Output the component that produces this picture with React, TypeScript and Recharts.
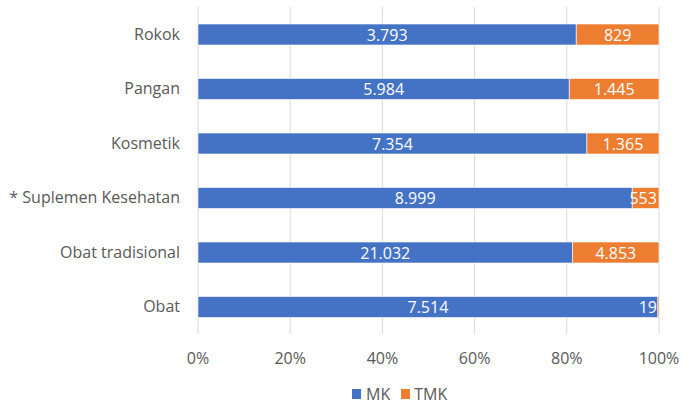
import { BarChart, Bar, XAxis, YAxis, CartesianGrid, Legend, LabelList } from "recharts";

const categories = ["Rokok", "Pangan", "Kosmetik", "* Suplemen Kesehatan", "Obat tradisional", "Obat"];
const mkValues = [3793, 5984, 7354, 8999, 21032, 7514];
const tmkValues = [829, 1445, 1365, 553, 4853, 19];
const percentTicks = [0, 0.2, 0.4, 0.6, 0.8, 1];

const data = categories.map((name, i) => ({ name, mk: mkValues[i], tmk: tmkValues[i] }));

const FONT = "'Open Sans', sans-serif";
const TEXT = "#595959";
const BLUE = "#4472C4";
const ORANGE = "#ED7D31";
const PLOT_RIGHT = 659;

// angka pakai titik sebagai pemisah ribuan
const fmt = (v: number) => String(v).replace(/\B(?=(\d{3})+(?!\d))/g, ".");

const textWidth = (s: string) => s.split("").reduce((w, c) => w + (c === "." ? 4.3 : 9.2), 0);

const SegmentLabel = (props: any) => {
  const { x, y, width, height, value } = props;
  const v = Array.isArray(value) ? value[1] - value[0] : value;
  const text = fmt(Number(v));
  const half = textWidth(text) / 2;
  const cx = Math.min(x + width / 2, PLOT_RIGHT - 2 - half);
  return (
    <text
      x={cx}
      y={y + height / 2}
      fill="#fff"
      fontSize={16}
      fontFamily={FONT}
      textAnchor="middle"
      dominantBaseline="central"
    >
      {text}
    </text>
  );
};

const LegendBox = () => (
  <div
    style={{
      height: 18,
      width: 694,
      display: "flex",
      alignItems: "center",
      paddingLeft: 352,
      boxSizing: "border-box",
      fontFamily: FONT,
      fontSize: 16,
      lineHeight: "18px",
      color: TEXT,
    }}
  >
    <span style={{ width: 9, height: 10, background: BLUE, marginRight: 5 }} />
    <span style={{ marginRight: 11 }}>MK</span>
    <span style={{ width: 9, height: 10, background: ORANGE, marginRight: 4 }} />
    <span>TMK</span>
  </div>
);

export default function App() {
  return (
    <div style={{ width: 694, height: 404, background: "#fff", overflow: "hidden" }}>
      <style>{"html,body{margin:0;padding:0;overflow:hidden;}"}</style>
      <BarChart
        width={694}
        height={404}
        data={data}
        layout="vertical"
        stackOffset="expand"
        barSize={21}
        margin={{ top: 7, right: 35, left: 0, bottom: 0 }}
      >
        <CartesianGrid horizontal={false} stroke="#D9D9D9" />
        <XAxis
          type="number"
          domain={[0, 1]}
          ticks={percentTicks}
          tickFormatter={(v: number) => `${Math.round(v * 100)}%`}
          axisLine={false}
          tickLine={false}
          tickMargin={13}
          height={52}
          tick={{ fill: TEXT, fontSize: 16, fontFamily: FONT }}
        />
        <YAxis
          type="category"
          dataKey="name"
          width={198}
          axisLine={false}
          tickLine={false}
          tickMargin={12}
          tick={{ fill: TEXT, fontSize: 16, fontFamily: FONT }}
        />
        <Legend
          verticalAlign="bottom"
          align="left"
          height={18}
          content={<LegendBox />}
          wrapperStyle={{ left: 0, top: 385, bottom: "auto" }}
        />
        <Bar dataKey="mk" name="MK" stackId="a" fill={BLUE} stroke="#fff" strokeOpacity={0.6} isAnimationActive={false}>
          <LabelList dataKey="mk" content={<SegmentLabel />} />
        </Bar>
        <Bar dataKey="tmk" name="TMK" stackId="a" fill={ORANGE} stroke="#fff" strokeOpacity={0.6} isAnimationActive={false}>
          <LabelList dataKey="tmk" content={<SegmentLabel />} />
        </Bar>
      </BarChart>
    </div>
  );
}
